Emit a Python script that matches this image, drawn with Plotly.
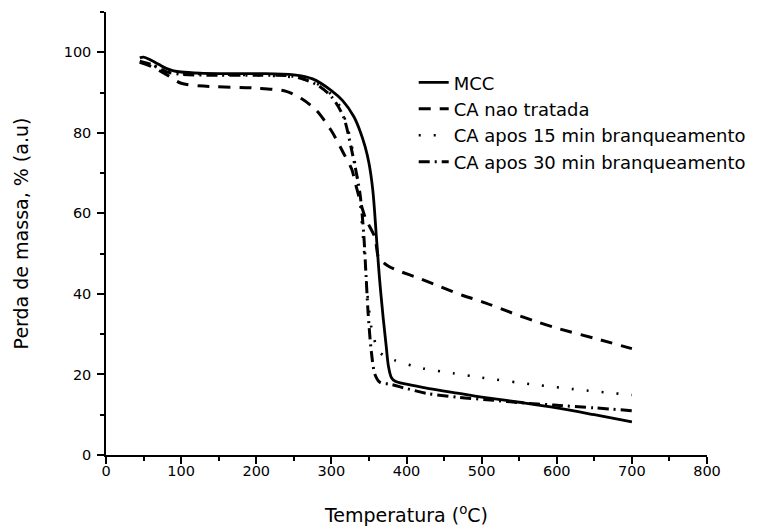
import plotly.graph_objects as go

# ---- data ----
mcc_T = [45, 50, 60, 70, 80, 90, 100, 125, 150, 200, 250, 275, 300, 315, 330, 338, 345, 350, 355, 360, 364, 369, 373, 376, 380, 385, 400, 430, 470, 500, 550, 600, 650, 700]
mcc_W = [98.6, 98.8, 98.0, 97.0, 96.0, 95.4, 95.1, 94.8, 94.7, 94.7, 94.4, 93.4, 90.5, 88.0, 84.0, 80.5, 76.5, 72.5, 66.0, 54.0, 44.0, 34.0, 27.0, 22.0, 19.2, 18.3, 17.6, 16.5, 15.3, 14.4, 13.1, 11.7, 10.0, 8.2]

nt_T = [45, 60, 80, 100, 130, 200, 240, 260, 280, 300, 316, 327, 334, 345, 358, 363, 375, 387, 418, 445, 475, 500, 550, 573, 600, 650, 700]
nt_W = [97.5, 96.5, 94.5, 92.3, 91.6, 91.1, 90.3, 88.5, 85.6, 80.5, 75.0, 71.0, 66.0, 59.0, 54.0, 49.0, 47.0, 45.9, 43.8, 41.8, 39.6, 38.1, 34.6, 33.1, 31.5, 29.0, 26.4]

b15_T = [45, 60, 80, 100, 150, 200, 250, 270, 285, 300, 312, 322, 330, 337, 343, 349, 355, 365, 383, 422, 462, 500, 573, 620, 700]
b15_W = [97.5, 97.0, 95.3, 94.8, 94.5, 94.3, 93.8, 93.0, 91.8, 89.5, 86.4, 81.0, 74.0, 65.0, 52.0, 38.0, 30.0, 25.4, 23.6, 21.5, 20.3, 19.2, 17.4, 16.4, 14.9]

b30_T = [45, 60, 80, 100, 150, 200, 250, 280, 300, 316, 327, 338, 343, 346, 349, 353, 358, 365, 378, 400, 427, 470, 516, 550, 596, 650, 700]
b30_W = [97.8, 97.0, 95.2, 94.5, 94.3, 94.3, 94.0, 92.0, 89.0, 84.0, 75.7, 65.0, 55.0, 45.0, 35.0, 26.0, 20.0, 18.0, 17.6, 16.5, 15.3, 14.3, 13.6, 13.0, 12.4, 11.7, 11.0]

names = ["MCC", "CA nao tratada", "CA apos 15 min branqueamento", "CA apos 30 min branqueamento"]

FONT = "DejaVu Sans, Arial, sans-serif"

fig = go.Figure()
fig.add_trace(go.Scatter(x=mcc_T, y=mcc_W, name=names[0], mode="lines",
                         line=dict(color="black", width=2.8, shape="spline", smoothing=1.0)))
fig.add_trace(go.Scatter(x=nt_T, y=nt_W, name=names[1], mode="lines",
                         line=dict(color="black", width=3, dash="12px,9px", shape="spline", smoothing=0.8)))
fig.add_trace(go.Scatter(x=b15_T, y=b15_W, name=names[2], mode="lines",
                         line=dict(color="black", width=2.6, dash="2px,13px", shape="spline", smoothing=0.8)))
fig.add_trace(go.Scatter(x=b30_T, y=b30_W, name=names[3], mode="lines",
                         line=dict(color="black", width=3, dash="11px,5px,2px,5px", shape="spline", smoothing=0.8)))

axis_common = dict(
    showline=True, linecolor="black", linewidth=1.5, mirror=False,
    showgrid=False, zeroline=False,
    ticks="outside", ticklen=7, tickwidth=1.5, tickcolor="black",
    tickfont=dict(family=FONT, size=14.5, color="black"),
)

fig.update_xaxes(range=[0, 800], tick0=0, dtick=100, ticklabelstandoff=-5,
                 minor=dict(dtick=50, ticklen=4, tickwidth=1.5, tickcolor="black", ticks="outside"),
                 title=dict(text="Temperatura (<sup>o</sup>C)", font=dict(family=FONT, size=19, color="black"), standoff=31),
                 **axis_common)
fig.update_yaxes(range=[0, 110], tick0=0, dtick=20, ticklabelstandoff=3,
                 minor=dict(dtick=10, ticklen=4, tickwidth=1.5, tickcolor="black", ticks="outside"),
                 title=dict(text="Perda de massa, % (a.u)", font=dict(family=FONT, size=19, color="black"), standoff=30),
                 **axis_common)

fig.update_layout(
    width=759, height=521,
    margin=dict(l=98, r=60, t=4, b=74, autoexpand=False),
    paper_bgcolor="white", plot_bgcolor="white",
    font=dict(family=FONT, color="black"),
    legend=dict(x=0.512, y=0.882, xanchor="left", yanchor="top",
                bgcolor="rgba(0,0,0,0)", font=dict(family=FONT, size=18, color="black"),
                tracegroupgap=0),
)

fig.write_html("out.html")
